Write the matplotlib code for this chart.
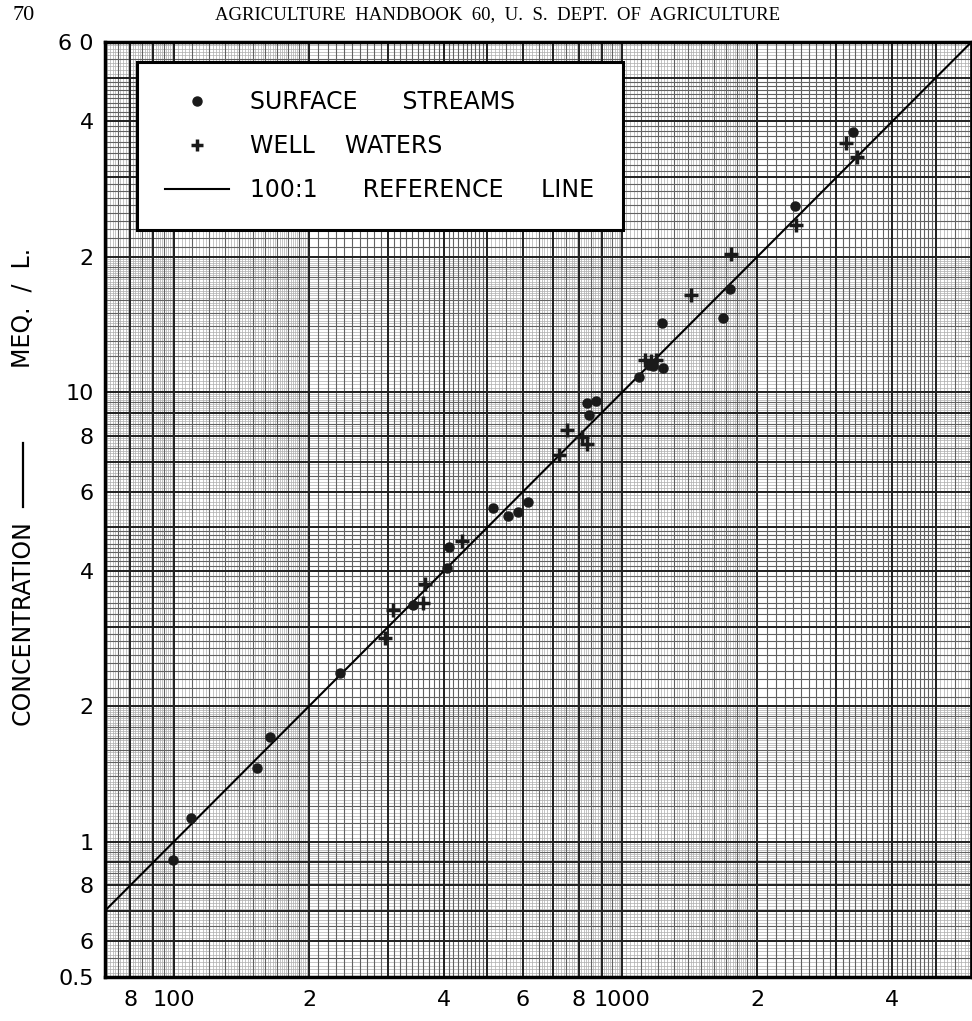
import numpy as np
import matplotlib.pyplot as plt
from matplotlib.lines import Line2D

# surface streams (dots): conductance (micromhos/cm) vs concentration (meq/L)
stream_ec = [99.5, 109, 153, 164, 234, 341, 406, 410, 514, 556, 585, 616,
             833, 873, 842, 1089, 1146, 1170, 1231, 1225, 1675, 1737, 2424, 3265]
stream_conc = [0.91, 1.13, 1.46, 1.71, 2.37, 3.36, 4.06, 4.52, 5.52, 5.30, 5.41, 5.69,
               9.45, 9.55, 8.88, 10.8, 11.5, 11.4, 11.3, 14.2, 14.6, 16.9, 25.9, 37.8]

# well waters (crosses)
well_ec = [295, 308, 359, 363, 439, 722, 752, 812, 833, 1122, 1158, 1188,
           1421, 1746, 2437, 3150, 3333]
well_conc = [2.84, 3.27, 3.39, 3.74, 4.66, 7.24, 8.23, 7.94, 7.66, 11.8, 11.7, 11.8,
             16.4, 20.3, 23.5, 35.8, 33.3]

ref_ratio = 100.0  # 100:1 reference line

xtick_vals = [80, 100, 200, 400, 600, 800, 1000, 2000, 4000]
xtick_labels = ['8', '100', '2', '4', '6', '8', '1000', '2', '4']
ytick_vals = [0.5, 0.6, 0.8, 1, 2, 4, 6, 8, 10, 20, 40, 60]
ytick_labels = ['0.5', '6', '8', '1', '2', '4', '6', '8', '10', '2', '4', '6 0']

XMIN, XMAX = 70.2, 6016
YMIN, YMAX = 0.5, 60.0

fig = plt.figure(figsize=(9.72, 10.21), dpi=100)
ax = fig.add_axes([105/972, 44/1021, 867/972, 935/1021])
ax.set_xscale('log')
ax.set_yscale('log')
ax.set_xlim(XMIN, XMAX)
ax.set_ylim(YMIN, YMAX)


# log graph paper lines
def paper_lines(lo, hi):
    heavy, medium, fine = [], [], []
    for dec in [0.1, 1, 10, 100, 1000]:
        for m in np.round(np.arange(1.0, 10.0, 0.02), 2):
            v = m * dec
            if v < lo or v > hi:
                continue
            if abs(m - round(m)) < 1e-6:
                heavy.append(v)
            elif m < 2:
                if abs(m * 10 - round(m * 10)) < 1e-6:
                    medium.append(v)
                else:
                    fine.append(v)
            elif m < 5:
                if abs(m * 10 - round(m * 10)) < 1e-6:
                    medium.append(v)
                elif abs(m * 20 - round(m * 20)) < 1e-6:
                    fine.append(v)
            else:
                if abs(m * 2 - round(m * 2)) < 1e-6:
                    medium.append(v)
                elif abs(m * 10 - round(m * 10)) < 1e-6:
                    fine.append(v)
    return heavy, medium, fine


hx, mx, fx = paper_lines(XMIN, XMAX)
hy, my, fy = paper_lines(YMIN, YMAX)
for v in fx:
    ax.axvline(v, color='0.68', lw=0.5, zorder=0)
for v in fy:
    ax.axhline(v, color='0.68', lw=0.5, zorder=0)
for v in mx:
    ax.axvline(v, color='0.38', lw=0.8, zorder=0)
for v in my:
    ax.axhline(v, color='0.38', lw=0.8, zorder=0)
for v in hx:
    ax.axvline(v, color='0.12', lw=1.4, zorder=0)
for v in hy:
    ax.axhline(v, color='0.12', lw=1.4, zorder=0)

# reference line
xr = np.array([XMIN, XMAX])
ax.plot(xr, xr / ref_ratio, color='black', lw=1.5, zorder=3)

ax.plot(stream_ec, stream_conc, 'o', color='#1a1a1a', ms=6.5, zorder=4)
ax.plot(well_ec, well_conc, '+', color='#1a1a1a', ms=10, mew=2.5, zorder=4)

for s in ax.spines.values():
    s.set_linewidth(2.5)
    s.set_color('black')

ax.set_xticks(xtick_vals)
ax.set_xticklabels(xtick_labels)
ax.set_yticks(ytick_vals)
ax.set_yticklabels(ytick_labels)
ax.xaxis.set_minor_locator(plt.NullLocator())
ax.yaxis.set_minor_locator(plt.NullLocator())
ax.tick_params(length=0, labelsize=16, pad=9)
ax.tick_params(axis='y', pad=8)
for t in ax.get_xticklabels() + ax.get_yticklabels():
    t.set_fontweight('medium')

# y label: CONCENTRATION —— MEQ./L. (long rule drawn as a line)
fig.text(23/972, 1 - 623/1021, 'CONCENTRATION', fontsize=17, rotation=90,
         ha='center', va='center')
fig.add_artist(Line2D([23/972, 23/972], [1 - 507/1021, 1 - 443/1021],
                      color='black', lw=1.6, transform=fig.transFigure))
fig.text(23/972, 1 - 308/1021, 'MEQ.  /  L.', fontsize=17, rotation=90,
         ha='center', va='center')

handles = [
    Line2D([], [], ls='none', marker='o', color='#1a1a1a', ms=6.5),
    Line2D([], [], ls='none', marker='+', color='#1a1a1a', ms=9, mew=2.5),
    Line2D([], [], color='black', lw=1.5),
]
labels = ['SURFACE      STREAMS', 'WELL    WATERS', '100:1      REFERENCE     LINE']
leg = ax.legend(handles, labels, loc='upper left', bbox_to_anchor=(0.037, 0.979),
                borderaxespad=0, fontsize=17, labelspacing=0.85, borderpad=1.2,
                handlelength=2.7, handletextpad=0.9, fancybox=False, framealpha=1)
leg.get_frame().set_edgecolor('black')
leg.get_frame().set_linewidth(2.2)
leg.set_zorder(5)

fig.text(12/972, 1 - 15/1021, '70', fontsize=16, family='Liberation Serif',
         va='center', ha='left')
fig.text(498/972, 1 - 15/1021,
         'AGRICULTURE  HANDBOOK  60,  U.  S.  DEPT.  OF  AGRICULTURE',
         fontsize=13.5, family='Liberation Serif', va='center', ha='center')

fig.savefig('out.png', dpi=100)
